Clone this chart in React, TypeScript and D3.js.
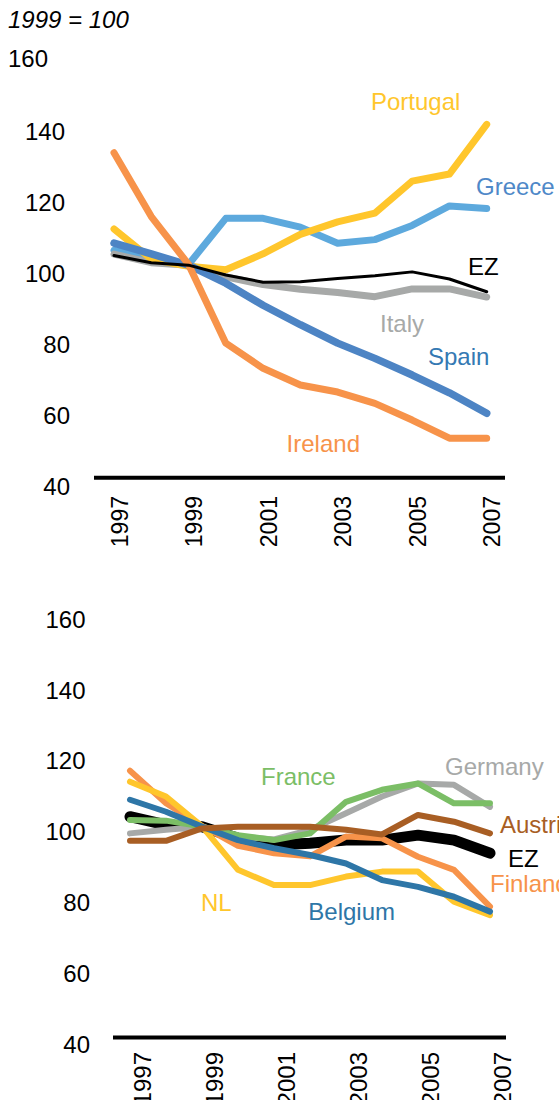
import React from "react";
import * as d3 from "d3";

const years = [1997, 1998, 1999, 2000, 2001, 2002, 2003, 2004, 2005, 2006, 2007];
const yearTicks = [1997, 1999, 2001, 2003, 2005, 2007];
const valueTicks = [160, 140, 120, 100, 80, 60, 40];

// Top panel
const portugal = [112.5, 104, 102, 101, 105.5, 111, 114.5, 117, 126, 128, 142];
const greece = [106.5, 104, 102.5, 115.5, 115.5, 113, 108.5, 109.5, 113.5, 119, 118.3];
const spain = [108.5, 105.5, 102.3, 97.2, 91, 85.5, 80.3, 76, 71.3, 66.3, 60.5];
const ireland = [134, 116, 102.5, 80.3, 73.2, 68.5, 66.5, 63.3, 58.6, 53.5, 53.5];
const italy = [105.4, 103, 102.3, 99, 96.8, 95.5, 94.6, 93.4, 95.6, 95.6, 93.3];
const ezTop = [105, 103, 102.3, 99.5, 97.5, 97.6, 98.5, 99.3, 100.4, 98.4, 94.8];

// Bottom panel
const ezBottom = [104.2, 101.9, 101.4, 98.1, 96.2, 96.7, 97.6, 97.6, 99, 97.6, 93.9];
const germany = [99.5, 100.5, 101.4, 98.6, 97.8, 100.5, 105.2, 109.9, 113.6, 113.2, 107];
const france = [103.3, 103.1, 101.4, 99, 97.6, 99.5, 108.4, 111.8, 113.6, 108, 108];
const finland = [117.2, 108, 101.6, 96, 93.9, 93, 98.6, 98.1, 92.9, 89.2, 78.8];
const nl = [114.1, 109.9, 101.5, 89.2, 84.9, 84.9, 87.3, 88.7, 88.7, 80.2, 76.4];
const belgium = [109, 105.6, 101.4, 97.6, 95.3, 93.4, 91, 86.3, 84.4, 81.6, 77.4];
const austria = [97.4, 97.4, 100.9, 101.4, 101.4, 101.4, 100.5, 99.2, 104.7, 102.8, 99.5];

const FONT = "'Liberation Sans', Arial, Helvetica, sans-serif";

type Series = { name: string; values: number[]; color: string; width: number };
type Label = { text: string; x: number; y: number; color: string; anchor?: string };

const topSeries: Series[] = [
  { name: "Greece", values: greece, color: "#5DA9DD", width: 7 },
  { name: "Italy", values: italy, color: "#A7A9A8", width: 7 },
  { name: "Portugal", values: portugal, color: "#FFC62C", width: 7 },
  { name: "Spain", values: spain, color: "#4D84C4", width: 7.5 },
  { name: "Ireland", values: ireland, color: "#F7934A", width: 7 },
  { name: "EZ", values: ezTop, color: "#000000", width: 3 },
];

const bottomSeries: Series[] = [
  { name: "EZ", values: ezBottom, color: "#000000", width: 11 },
  { name: "Germany", values: germany, color: "#A7A9A8", width: 6 },
  { name: "France", values: france, color: "#7BBE66", width: 6 },
  { name: "Finland", values: finland, color: "#F7934A", width: 6 },
  { name: "NL", values: nl, color: "#FFC62C", width: 6 },
  { name: "Belgium", values: belgium, color: "#2E76A7", width: 6 },
  { name: "Austria", values: austria, color: "#A85E24", width: 6 },
];

const topLabels: Label[] = [
  { text: "Portugal", x: 371, y: 110, color: "#FFC62C" },
  { text: "Greece", x: 476, y: 195, color: "#4E88C8" },
  { text: "EZ", x: 468, y: 275, color: "#000000" },
  { text: "Italy", x: 380, y: 332, color: "#A7A9A8" },
  { text: "Spain", x: 428, y: 365, color: "#3479B3" },
  { text: "Ireland", x: 360, y: 452, color: "#F7934A", anchor: "end" },
];

const bottomLabels: Label[] = [
  { text: "France", x: 261, y: 785, color: "#7BBE66" },
  { text: "Germany", x: 445, y: 775, color: "#A7A9A8" },
  { text: "Austria", x: 500, y: 833, color: "#A85E24" },
  { text: "EZ", x: 508, y: 867, color: "#000000" },
  { text: "Finland", x: 490, y: 892, color: "#F7934A" },
  { text: "NL", x: 201, y: 911, color: "#FFC62C" },
  { text: "Belgium", x: 395, y: 920, color: "#2E76A7", anchor: "end" },
];

function Panel(props: {
  series: Series[];
  labels: Label[];
  xRange: [number, number];
  yRange: [number, number];
  axisX: [number, number];
  axisY: number;
  tickEnd3: number;
  tickEnd2: number;
  firstTickStart?: number;
  yearOffset: number;
  yearTop: number;
  yearFont: number;
}) {
  const x = d3.scaleLinear().domain([1997, 2007]).range(props.xRange);
  const y = d3.scaleLinear().domain([40, 140]).range(props.yRange);
  const line = d3
    .line<number>()
    .x((_, i) => x(years[i]))
    .y((d) => y(d));
  return (
    <g>
      {valueTicks.map((t) => {
        const isFirst = t === 160 && props.firstTickStart !== undefined;
        const xx = isFirst ? props.firstTickStart! : t >= 100 ? props.tickEnd3 : props.tickEnd2;
        return (
          <text
            key={t}
            x={xx}
            y={y(t) - (isFirst ? 2.5 : 0)}
            dy="0.36em"
            textAnchor={isFirst ? "start" : "end"}
            fontSize={24}
            fontFamily={FONT}
            fill="#000"
          >
            {t}
          </text>
        );
      })}
      <line
        x1={props.axisX[0]}
        x2={props.axisX[1]}
        y1={props.axisY}
        y2={props.axisY}
        stroke="#000"
        strokeWidth={4}
      />
      {yearTicks.map((yr) => {
        const bx = x(yr) + props.yearOffset;
        return (
          <text
            key={yr}
            transform={`translate(${bx},${props.yearTop}) rotate(-90)`}
            textAnchor="end"
            fontSize={props.yearFont}
            fontFamily={FONT}
            fill="#000"
          >
            {yr}
          </text>
        );
      })}
      {props.series.map((s) => (
        <path
          key={s.name}
          d={line(s.values) || ""}
          fill="none"
          stroke={s.color}
          strokeWidth={s.width}
          strokeLinecap="round"
          strokeLinejoin="round"
        />
      ))}
      {props.labels.map((l) => (
        <text
          key={l.text}
          x={l.x}
          y={l.y}
          fontSize={24}
          fontFamily={FONT}
          fill={l.color}
          textAnchor={l.anchor || "start"}
        >
          {l.text}
        </text>
      ))}
    </g>
  );
}

export default function App() {
  return (
    <svg
      width={559}
      height={1100}
      style={{ position: "absolute", left: 0, top: 0, overflow: "hidden", background: "#fff" }}
    >
      <rect x={0} y={0} width={559} height={1100} fill="#fff" />
      <text x={8} y={28} fontSize={24} fontStyle="italic" fontFamily={FONT} fill="#000">
        1999 = 100
      </text>
      <Panel
        series={topSeries}
        labels={topLabels}
        xRange={[114, 486.7]}
        yRange={[486, 131.5]}
        axisX={[94, 505]}
        axisY={477.7}
        tickEnd3={65}
        tickEnd2={70}
        firstTickStart={8}
        yearOffset={13.6}
        yearTop={496}
        yearFont={23}
      />
      <Panel
        series={bottomSeries}
        labels={bottomLabels}
        xRange={[130, 490]}
        yRange={[1044, 690]}
        axisX={[113, 506]}
        axisY={1037.5}
        tickEnd3={85.5}
        tickEnd2={90}
        yearOffset={20.6}
        yearTop={1052}
        yearFont={24}
      />
    </svg>
  );
}
